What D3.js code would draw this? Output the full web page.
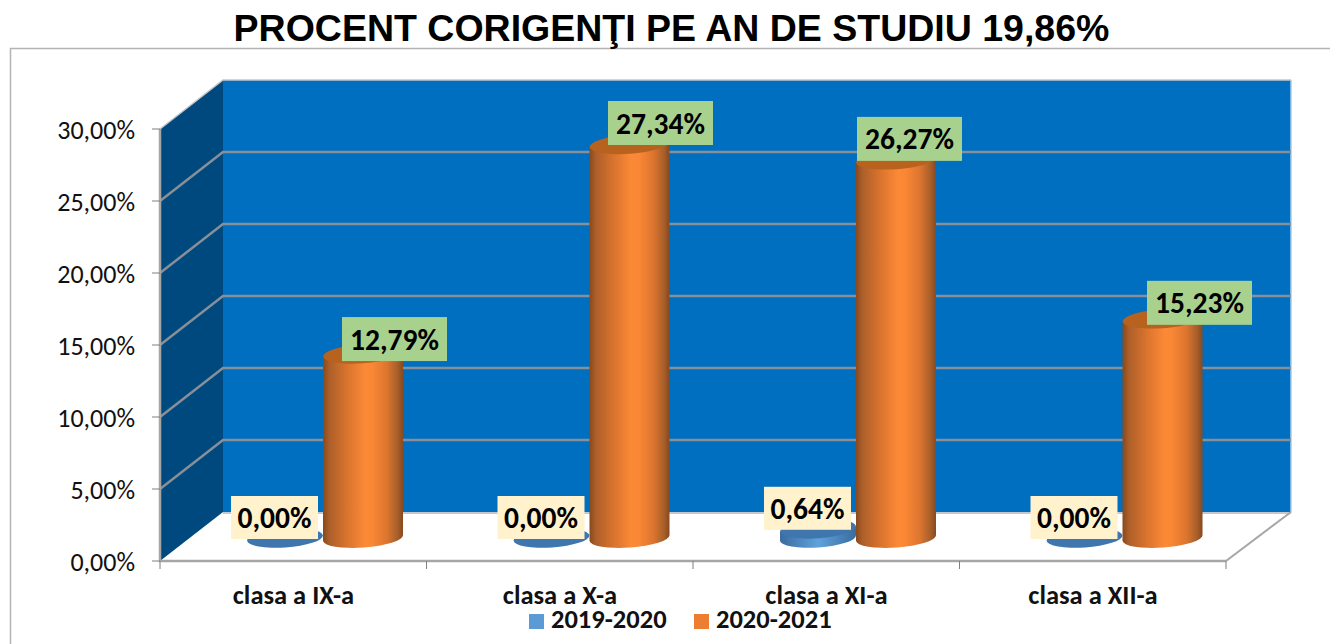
<!DOCTYPE html>
<html><head><meta charset="utf-8">
<script src="https://cdn.jsdelivr.net/npm/d3@7"></script>
<style>html,body{margin:0;background:#fff}svg{display:block}</style></head>
<body><svg id="c" width="1330" height="644"></svg>
<script>
const categories=["clasa a IX-a","clasa a X-a","clasa a XI-a","clasa a XII-a"];
const series2019=[0,0,0.64,0];
const series2020=[12.79,27.34,26.27,15.23];
const labels2019=["0,00%","0,00%","0,64%","0,00%"];
const labels2020=["12,79%","27,34%","26,27%","15,23%"];
const yTicks=[0,5,10,15,20,25,30];
const tickLabels=["0,00%","5,00%","10,00%","15,00%","20,00%","25,00%","30,00%"];
const legendNames=["2019-2020","2020-2021"];
const titleText="PROCENT CORIGENŢI PE AN DE STUDIU 19,86%";

const font="Calibri,Carlito,'Open Sans','Liberation Sans',sans-serif";
const svg=d3.select("#c");
const dx=63,dy=-49;
const y=d3.scaleLinear().domain([0,30]).range([561,129]);
const barY=d3.scaleLinear().domain([0,30]).range([538,106]);
const labelY=d3.scaleLinear().domain([0,30]).range([529,83.5]);
const x=d3.scaleBand().domain(categories).range([160,1226]);
const labelShift=[31.5,31,13.5,37];
const defs=svg.append("defs");
function grad(id,stops){const g=defs.append("linearGradient").attr("id",id);
 stops.forEach(s=>g.append("stop").attr("offset",s[0]).attr("stop-color",s[1]));}
grad("gO",[[0,"#87491c"],[.08,"#ad5f2a"],[.3,"#d9732e"],[.52,"#fb8936"],[.62,"#f98735"],[.8,"#dc752f"],[.93,"#a85f2a"],[1,"#87491f"]]);
grad("gB",[[0,"#3a6c9e"],[.5,"#5fa2dc"],[1,"#3a6c9e"]]);

svg.append("path").attr("d","M10.5,644V48.5H1330").attr("fill","none").attr("stroke","#b4b4b4").attr("stroke-width",1.5);
svg.append("text").attr("x",671.5).attr("y",41).attr("text-anchor","middle")
 .attr("font-family","'Liberation Sans',Arial,sans-serif").attr("font-weight","700").attr("font-size",37.5).attr("fill","#000").text(titleText);

const x0=160,x1=1226;
svg.append("path").attr("d",`M${x0},${y(0)}L${x0+dx},${y(0)+dy}L${x1+dx},${y(0)+dy}L${x1},${y(0)}Z`).attr("fill","#fff");
svg.append("rect").attr("x",x0+dx).attr("y",y(30)+dy).attr("width",x1-x0+2).attr("height",y(0)-y(30)).attr("fill","#006fc0");
svg.append("path").attr("d",`M${x0},${y(0)}L${x0+dx},${y(0)+dy}V${y(30)+dy}L${x0},${y(30)}Z`).attr("fill","#00497f");
svg.append("line").attr("x1",x1+dx+2).attr("x2",x1+dx+2).attr("y1",y(30)+dy).attr("y2",y(0)+dy).attr("stroke","#a5cdf0").attr("stroke-width",1.5);
svg.append("line").attr("x1",x0+dx).attr("x2",x1+dx+2).attr("y1",y(0)+dy+1).attr("y2",y(0)+dy+1).attr("stroke","#c4c8cc").attr("stroke-width",2);
yTicks.forEach(t=>{
 if(t===0)return;
 svg.append("path").attr("d",`M${x0},${y(t)}L${x0+dx},${y(t)+dy}H${x1+dx+2}`).attr("fill","none").attr("stroke",t===30?"#c4c6c8":"#878f98").attr("stroke-width",t===30?1.5:2.5);
});
svg.append("path").attr("d",`M${x0},${y(30)}V${y(0)}H${x1}`).attr("fill","none").attr("stroke","#a6a6a6").attr("stroke-width",2.5);
svg.append("path").attr("d",`M${x1},${y(0)}L${x1+dx+2},${y(0)+dy}`).attr("fill","none").attr("stroke","#a6a6a6").attr("stroke-width",2);
yTicks.forEach((t,i)=>{
 svg.append("line").attr("x1",x0-8).attr("x2",x0).attr("y1",y(t)).attr("y2",y(t)).attr("stroke","#7f7f7f");
 svg.append("text").attr("x",135).attr("y",y(t)+9.5).attr("text-anchor","end").attr("font-family",font).attr("font-size",26).attr("fill","#111").text(tickLabels[i]);
});
[...categories.map(c=>x(c)),x1].forEach(v=>svg.append("line").attr("x1",v).attr("x2",v).attr("y1",y(0)).attr("y2",y(0)+8).attr("stroke","#7f7f7f"));

const cyl=(cx,base,top,rx,ry,fill,topFill)=>{
 const g=svg.append("g"),tilt=-4,s=rx*Math.sin(-tilt*Math.PI/180);
 if(base>top) g.append("path").attr("d",`M${cx-rx},${top+s}V${base+s}A${rx},${ry} ${tilt} 0 0 ${cx+rx},${base-s}V${top-s}Z`).attr("fill",fill);
 g.append("ellipse").attr("cx",cx).attr("cy",base>top?top:base).attr("rx",rx).attr("ry",ry).attr("transform",`rotate(${tilt} ${cx} ${base>top?top:base})`).attr("fill",topFill);
};
categories.forEach((c,i)=>{
 const b=x(c);
 cyl(b+125,barY(0),barY(series2019[i]),38,9.5,"url(#gB)","#3f76ad");
 cyl(b+203,barY(0),barY(series2020[i]),40,9.5,"url(#gO)","#b8621f");
});
const lab=(cx,cy,w,h,fill,t)=>{
 svg.append("rect").attr("x",cx-w/2).attr("y",cy-h/2).attr("width",w).attr("height",h).attr("fill",fill);
 svg.append("text").attr("x",cx).attr("y",cy+10.5).attr("text-anchor","middle").attr("font-family",font).attr("font-weight","700").attr("font-size",29.5).attr("fill","#000").text(t);
};
categories.forEach((c,i)=>{
 const b=x(c);
 lab(b+114.5,y(series2019[i])-43.5,87,43,"#fff2cc",labels2019[i]);
 lab(b+203+labelShift[i],labelY(series2020[i]),105,44,"#a9d18e",labels2020[i]);
 svg.append("text").attr("x",b+133.5).attr("y",604).attr("text-anchor","middle").attr("font-family",font).attr("font-weight","700").attr("font-size",26.5).attr("fill","#111").text(c);
});
[[529,"#5b9bd5",0],[694,"#ed7d31",1]].forEach(d=>{
 svg.append("rect").attr("x",d[0]).attr("y",614).attr("width",15).attr("height",15).attr("fill",d[1]);
 svg.append("text").attr("x",d[0]+22).attr("y",628).attr("font-family",font).attr("font-weight","700").attr("font-size",26.5).attr("fill","#111").text(legendNames[d[2]]);
});
</script></body></html>
